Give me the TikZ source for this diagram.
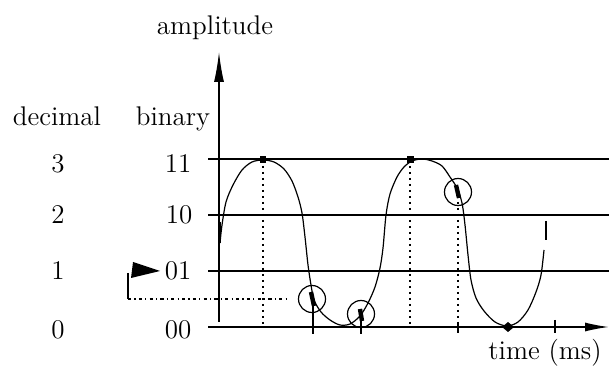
\documentclass[tikz,border=0pt]{standalone}
\usepackage{tikz}
\usetikzlibrary{arrows.meta}

\begin{document}
\begin{tikzpicture}[x=0.5pt, y=-0.5pt,
	lbl/.style={anchor=base, font=\fontsize{13.5}{16}\selectfont, inner sep=0pt},
	level/.style={line width=0.7pt},
	guide/.style={line width=0.8pt, dash pattern=on 0.8pt off 2.2pt},
	sample/.style={draw, circle, line width=0.6pt, minimum size=13.5pt, inner sep=0pt},
	blob/.style={line width=2.2pt},
	tick/.style={line width=0.7pt}]
	\useasboundingbox (0,0) rectangle (609,367);
	% titles and scale labels
	\node[lbl] (amp) at (215,35) {amplitude};
	\node[lbl] (dec) at (57,126) {decimal};
	\node[lbl] (bin) at (173,126) {binary};
	\node[lbl] (d3) at (58,173) {3};
	\node[lbl] (d2) at (58,224) {2};
	\node[lbl] (d1) at (58,280) {1};
	\node[lbl] (d0) at (58,339) {0};
	\node[lbl] (b11) at (178,173) {11};
	\node[lbl] (b10) at (179,224) {10};
	\node[lbl] (b01) at (178,280) {01};
	\node[lbl] (b00) at (178,339) {00};
	\node[lbl] (time) at (545,360) {time (ms)};
	% quantisation levels and axes
	\draw[level] (208,159) -- (609,159);
	\draw[level] (208,215) -- (609,215);
	\draw[level] (208,271) -- (609,271);
	\draw[level, -{Latex[length=12pt, width=4.5pt]}] (208,327) -- (609,327);
	\draw[level, -{Latex[length=15pt, width=5pt]}] (219,322) -- (219,52);
	% dotted guides
	\draw[guide] (263,160) -- (263,327);
	\draw[guide] (410,160) -- (410,327);
	\draw[guide] (458,190) -- (458,327);
	\draw[line width=0.8pt, dash pattern=on 1.6pt off 1.6pt on 0.6pt off 1.6pt] (128,299) -- (287,299);
	\draw[line width=0.7pt] (128,273) -- (128,299);
	\fill (133,262) -- (160,271) -- (131,278) -- cycle;
	% signal
	\draw[line width=0.6pt] plot[smooth, tension=0.5] coordinates {(220,243) (222,225) (226,202) (233,185) (242,170) (252,162) (263,160) (274,162) (284,169) (292,181) (298,197) (302,213) (305,237) (308,265) (311,285) (314,300) (321,312) (330,320) (340,325) (350,324) (360,316) (368,303) (375,287) (380,268) (383,248) (386,215) (390,194) (397,177) (404,167) (412,161) (422,159) (432,161) (442,166) (450,177) (457,188) (462,203) (465,225) (468,255) (471,280) (476,298) (484,311) (495,322) (507,326) (518,322) (528,310) (536,292) (541,275) (544,250)};
	\draw[line width=0.9pt] (220,222) -- (220,243);
	\draw[line width=0.9pt] (546,221) -- (546,240);
	% samples
	\fill (260,156) rectangle (266,163);
	\fill (407,156) rectangle (414,163);
	\draw[line width=1.2pt] (414,159) -- (425,159);
	\fill (502,327) -- (508,322) -- (514,327) -- (508,332) -- cycle;
	\node[sample] (s1) at (312,299) {};
	\node[sample] (s2) at (361,314) {};
	\node[sample] (s3) at (458,192) {};
	\draw[blob] (311,292) -- (314,306);
	\draw[blob] (360,309) -- (362,321);
	\draw[blob] (456,185) -- (459,198);
	% ticks on the time axis
	\draw[tick] (313,306) -- (313,334);
	\draw[tick] (361,321) -- (361,334);
	\draw[tick] (458,322) -- (458,333);
	\draw[tick] (555,320) -- (555,333);
\end{tikzpicture}
\end{document}
